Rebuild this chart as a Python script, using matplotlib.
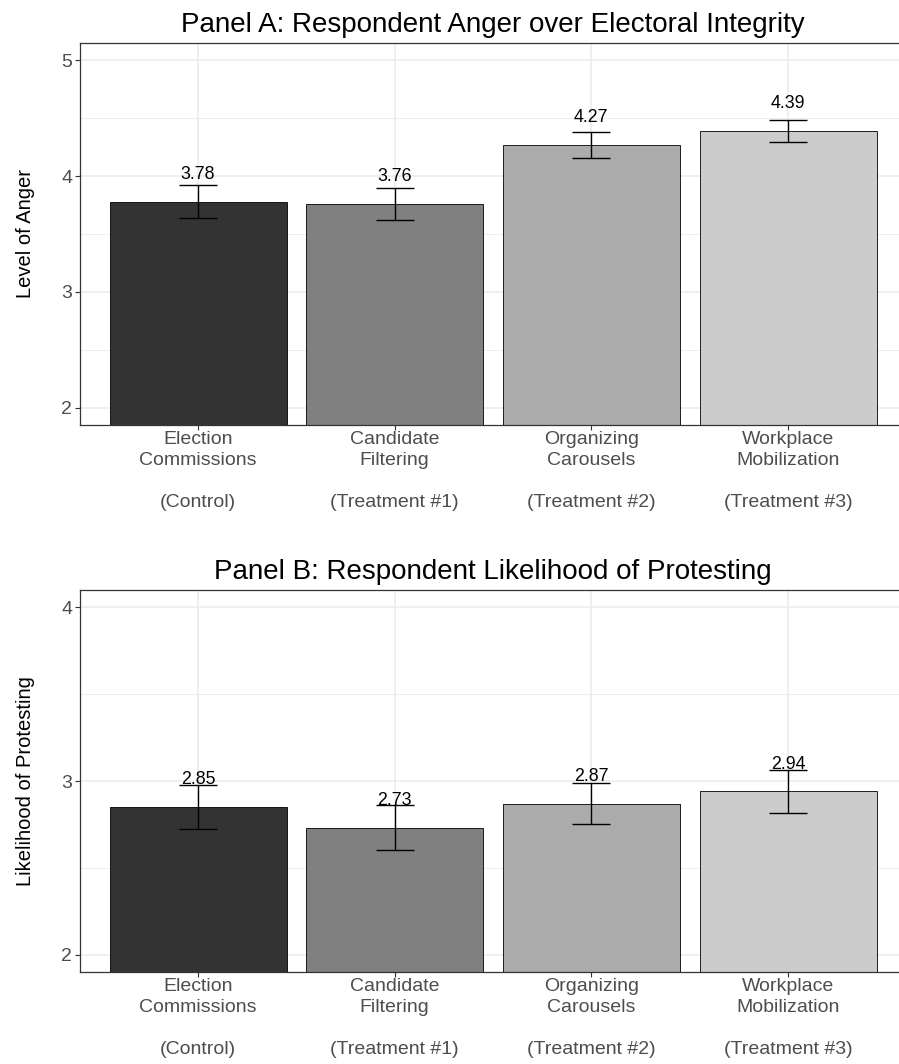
import matplotlib
matplotlib.use("Agg")
import matplotlib.pyplot as plt
from matplotlib.ticker import FixedLocator
import numpy as np

plt.rcParams["font.family"] = ["Liberation Sans", "DejaVu Sans"]

# data
categories = ["Election\nCommissions\n\n(Control)",
              "Candidate\nFiltering\n\n(Treatment #1)",
              "Organizing\nCarousels\n\n(Treatment #2)",
              "Workplace\nMobilization\n\n(Treatment #3)"]
anger_mean = [3.78, 3.76, 4.27, 4.39]
anger_se = [0.14, 0.135, 0.11, 0.092]
protest_mean = [2.85, 2.73, 2.87, 2.94]
protest_se = [0.125, 0.13, 0.118, 0.123]
bar_colors = ["#333333", "#808080", "#ABABAB", "#CCCCCC"]

W, H = 899, 1064
fig = plt.figure(figsize=(W / 100, H / 100), dpi=100)


def px_axes(left, top, right, bottom):
    return fig.add_axes([left / W, 1 - bottom / H, (right - left) / W, (bottom - top) / H])


def panel(ax, means, ses, title, ylabel, ylim, majors, minors):
    x = np.arange(1, len(means) + 1)
    ax.set_axisbelow(True)
    ax.bar(x, means, width=0.9, color=bar_colors, edgecolor="black", linewidth=0.6, zorder=2)
    ax.errorbar(x, means, yerr=ses, fmt="none", ecolor="black", elinewidth=1.0,
                capsize=13.7, capthick=1.0, zorder=3)
    for xi, m in zip(x, means):
        ax.annotate(f"{m:.2f}", (xi, m), xytext=(0, 16.5), textcoords="offset points",
                    ha="center", va="baseline", fontsize=12.8, color="black", zorder=4)

    ax.set_xlim(0.4, 4.6)
    ax.set_ylim(*ylim)
    ax.xaxis.set_major_locator(FixedLocator(x))
    ax.set_xticklabels(categories, linespacing=1.33)
    ax.yaxis.set_major_locator(FixedLocator(majors))
    ax.yaxis.set_minor_locator(FixedLocator(minors))
    ax.set_yticklabels([str(v) for v in majors])

    ax.grid(which="major", color="#EBEBEB", linewidth=1.1)
    ax.grid(which="minor", axis="y", color="#EBEBEB", linewidth=0.6)
    ax.tick_params(which="major", length=3.5, width=0.8, color="#333333",
                   labelcolor="#4D4D4D", labelsize=14, pad=2)
    ax.tick_params(axis="x", which="major", pad=0.5)
    ax.tick_params(which="minor", length=0)
    for s in ax.spines.values():
        s.set_color("#333333")
        s.set_linewidth(0.9)

    ax.set_title(title, fontsize=20, pad=8)
    ax.set_ylabel(ylabel, fontsize=14.5)
    ax.yaxis.set_label_coords(-0.054, 0.5)


# Panel A
ax1 = px_axes(80, 43, 906, 425)
panel(ax1, anger_mean, anger_se, "Panel A: Respondent Anger over Electoral Integrity",
      "Level of Anger", (1.85, 5.15), [2, 3, 4, 5], [2.5, 3.5, 4.5])

# Panel B
ax2 = px_axes(80, 590, 906, 972)
panel(ax2, protest_mean, protest_se, "Panel B: Respondent Likelihood of Protesting",
      "Likelihood of Protesting", (1.9, 4.1), [2, 3, 4], [2.5, 3.5])

fig.savefig("out.png", dpi=100)
